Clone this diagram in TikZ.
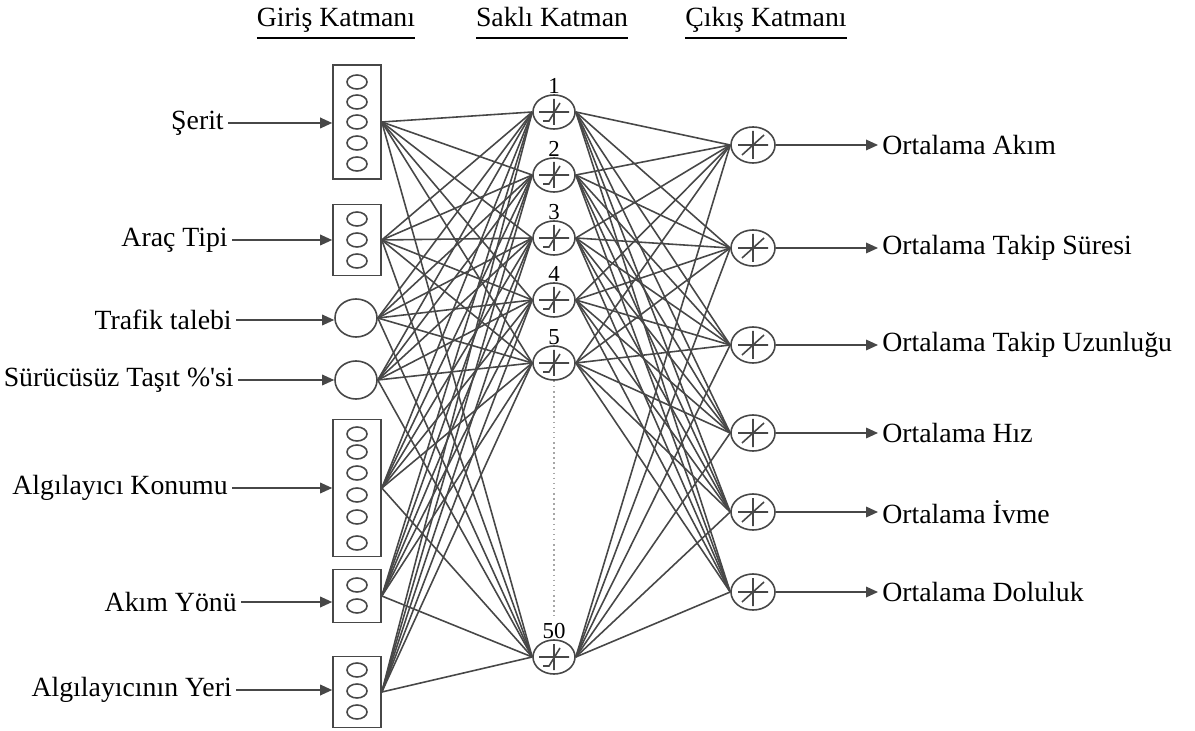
\documentclass[tikz,border=0pt]{standalone}
\usepackage{fontspec}
\setmainfont{Liberation Serif}
\usetikzlibrary{shapes.geometric}
\usetikzlibrary{arrows.meta}
\colorlet{wire}{black!72}
\colorlet{dots}{black!35}
\newcommand{\layertitle}[1]{\underline{#1\vphantom{şÇ}}}

\begin{document}
\begin{tikzpicture}[x=0.01cm,y=-0.01cm,line width=0.45pt,
    lbl/.style={font=\fontsize{7.9}{9}\selectfont,inner sep=1pt},
    head/.style={font=\fontsize{7.9}{9}\selectfont,anchor=base},
    num/.style={font=\fontsize{6.5}{7}\selectfont,inner sep=1pt},
    tip/.style={-{Triangle[length=3.4pt,width=3pt]}},
    inbox/.style={draw=wire,minimum width=0.48cm,inner sep=0},
    inball/.style={ellipse,draw=wire,minimum width=0.42cm,minimum height=0.38cm,inner sep=0},
    hid/.style={ellipse,draw=wire,minimum width=0.42cm,minimum height=0.34cm,inner sep=0,
      path picture={\draw[wire,shift={(path picture bounding box.center)}]
        (-15,0) -- (15,0) (0,-13) -- (0,13) (-11,9) -- (-5,9) -- (6,-9);}},
    outn/.style={ellipse,draw=wire,minimum width=0.44cm,minimum height=0.36cm,inner sep=0,
      path picture={\draw[wire,shift={(path picture bounding box.center)}]
        (-15,0) -- (15,0) (0,-14) -- (0,14) (-11,10) -- (11,-10);}}]
  \useasboundingbox (0,0) rectangle (1195,731);
  % Layer titles
  \node[head] (t1) at (336,27) {\layertitle{Giriş Katmanı}};
  \node[head] (t2) at (552,27) {\layertitle{Saklı Katman}};
  \node[head] (t3) at (766,27) {\layertitle{Çıkış Katmanı}};
  % Input layer
  \node[inbox,minimum height=1.14cm] (in1) at (357,122) {};
  \node[inbox,minimum height=0.71cm] (in2) at (357,240) {};
  \node[inball] (in3) at (356,318) {};
  \node[inball] (in4) at (356,380) {};
  \node[inbox,minimum height=1.37cm] (in5) at (357,488) {};
  \node[inbox,minimum height=0.53cm] (in6) at (357,596) {};
  \node[inbox,minimum height=0.71cm] (in7) at (357,692) {};
  \foreach \y in {82,102,122,143,164,219,240,261,434,452,473,495,517,543,585,606,670,691,712}
    \draw[wire] (357,\y) ellipse (0.1cm and 0.07cm);
  % Input labels
  \node[lbl,anchor=east] (x1) at (228,123) {Şerit};
  \node[lbl,anchor=east] (x2) at (232,240) {Araç Tipi};
  \node[lbl,anchor=east] (x3) at (236,320) {Trafik talebi};
  \node[lbl,anchor=east] (x4) at (238,380) {Sürücüsüz Taşıt \%\textquotesingle si};
  \node[lbl,anchor=east] (x5) at (232,488) {Algılayıcı Konumu};
  \node[lbl,anchor=east] (x6) at (241,602) {Akım Yönü};
  \node[lbl,anchor=east] (x7) at (236,690) {Algılayıcının Yeri};
  \foreach \i in {1,...,7}
    \draw[wire,tip] (x\i.east) -- (x\i.east -| in\i.west);
  % Hidden layer
  \foreach \n/\y in {1/112,2/175,3/238,4/300,5/363,50/657}
    \node[hid,label={[num,label distance=-1pt]above:\n}] (h\n) at (554,\y) {};
  \draw[dots,densely dotted] (h5.south) -- (554,616);
  % Output layer
  \foreach \j/\y/\t in {1/145/Ortalama Akım,2/248/Ortalama Takip Süresi,
      3/345/Ortalama Takip Uzunluğu,4/433/Ortalama Hız,5/512/Ortalama İvme,6/592/Ortalama Doluluk} {
    \node[outn] (o\j) at (753,\y) {};
    \node[lbl,anchor=west] (y\j) at (878,\y) {\t};
    \draw[wire,tip] (o\j.east) -- (y\j.west);
  }
  % Weights
  \foreach \i in {1,...,7}
    \foreach \n in {1,2,3,4,5,50}
      \draw[wire] (in\i.east) -- (h\n.west);
  \foreach \n in {1,2,3,4,5,50}
    \foreach \j in {1,...,6}
      \draw[wire] (h\n.east) -- (o\j.west);
\end{tikzpicture}
\end{document}
